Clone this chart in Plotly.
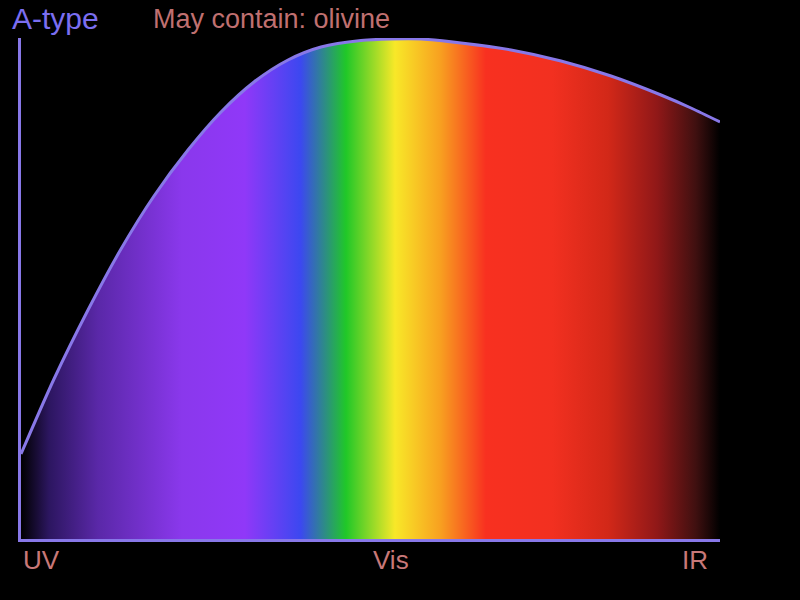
import plotly.graph_objects as go

# Spectrum curve (x: position along UV→IR axis, y: relative intensity)
x_vals = [0, 33, 67, 100, 133, 167, 200, 233, 267, 300, 340, 370, 400, 440, 490, 540, 590, 640, 670, 699]
y_vals = [85, 160, 229, 290, 343, 389, 427, 457, 479, 492, 498.5, 500, 500, 496, 489, 478, 463, 444, 431, 417]

tick_labels = ["UV", "Vis", "IR"]
tick_pos = [0, 370, 674]

title_text = "A-type"
subtitle_text = "May contain: olivine"

spectrum_scale = [
    [0.0, "#000000"],
    [0.04, "#2c1660"],
    [0.11, "#5a28a8"],
    [0.23, "#8a38ec"],
    [0.32, "#9038f8"],
    [0.40, "#3c48f0"],
    [0.465, "#20c828"],
    [0.535, "#f8e828"],
    [0.60, "#f8a020"],
    [0.665, "#f83020"],
    [0.76, "#f23020"],
    [0.84, "#d22818"],
    [0.91, "#901818"],
    [0.965, "#401010"],
    [1.0, "#000000"],
]

line_color = "#8878e8"
label_color = "#c87878"
font_family = "Liberation Sans, Arial, sans-serif"

fig = go.Figure()
fig.add_trace(go.Scatter(
    x=x_vals, y=y_vals, mode="lines",
    line=dict(color=line_color, width=3, shape="spline", smoothing=0.8),
    fill="tozeroy",
    fillgradient=dict(type="horizontal", colorscale=spectrum_scale, start=0, stop=699),
    hoverinfo="skip", showlegend=False,
))

annotations = [
    dict(text=title_text, xref="paper", yref="paper", x=-0.016, y=1.038,
         xanchor="left", yanchor="middle", showarrow=False,
         font=dict(family=font_family, size=30, color="#7b6ef0")),
    dict(text=subtitle_text, xref="paper", yref="paper", x=0.186, y=1.038,
         xanchor="left", yanchor="middle", showarrow=False,
         font=dict(family=font_family, size=27, color="#c07070")),
]
anchors = ["left", "center", "center"]
for lbl, pos, anc in zip(tick_labels, tick_pos, anchors):
    annotations.append(dict(text=lbl, xref="x", yref="paper", x=pos, y=-0.042,
                            xanchor=anc, yanchor="middle", showarrow=False,
                            font=dict(family=font_family, size=26, color=label_color)))

fig.update_layout(
    width=800, height=600,
    margin=dict(l=21, r=80, t=38, b=61),
    paper_bgcolor="black", plot_bgcolor="black",
    xaxis=dict(range=[0, 699], showgrid=False, zeroline=False, showticklabels=False,
               showline=True, linecolor=line_color, linewidth=3, fixedrange=True),
    yaxis=dict(range=[0, 501], showgrid=False, zeroline=False, showticklabels=False,
               showline=True, linecolor=line_color, linewidth=3, fixedrange=True),
    annotations=annotations,
)

fig.write_html("out.html", config={"displayModeBar": False})
